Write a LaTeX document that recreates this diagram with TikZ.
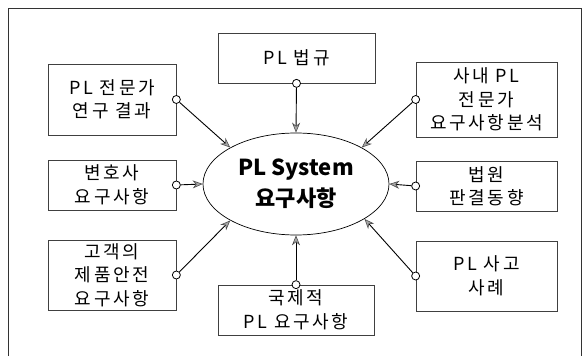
\documentclass[tikz,border=0pt]{standalone}
\usepackage{fontspec}
\setmainfont{Noto Sans CJK KR}
\usetikzlibrary{arrows.meta,shapes.geometric}
\begin{document}
\begin{tikzpicture}[x=1pt,y=-1pt,
  box/.style={draw=black!75,line width=0.7pt,minimum width=#1,inner sep=0pt,align=center,
    font=\fontsize{18}{23.5}\selectfont\addfontfeature{LetterSpace=15}},
  port/.style={circle,draw=black,line width=0.8pt,fill=white,minimum size=8pt,inner sep=0pt},
  conn/.style={line width=0.9pt,-{Stealth[length=10pt,width=8pt,fill=black!35,color=black!70,line width=0.6pt]}},
  frame/.style={line width=0.8pt,draw=black!80}]
\useasboundingbox (0,0) rectangle (583,358);
\draw[frame] (8,356) -- (8,8) -- (581,8) -- (581,356);
\node[ellipse,draw,line width=0.7pt,minimum width=186pt,minimum height=102pt,inner sep=0pt,align=center,
  font=\fontsize{22}{31}\selectfont\bfseries] (ell) at (296,184) {PL System\\요구사항};
\node[box=128pt,minimum height=71pt] (b1) at (112,99.5) {PL 전문가\\연구 결과};
\node[box=157pt,minimum height=50pt] (b2) at (296.5,58) {PL 법규};
\node[box=141pt,minimum height=75pt] (b3) at (486.5,99.5) {사내 PL\\전문가\\요구사항분석};
\node[box=128pt,minimum height=50pt] (b4) at (112,185) {변호사\\요구사항};
\node[box=141pt,minimum height=50pt] (b5) at (486.5,186) {법원\\판결동향};
\node[box=128pt,minimum height=70pt] (b6) at (112,275) {고객의\\제품안전\\요구사항};
\node[box=156pt,minimum height=50pt] (b7) at (296,310) {국제적\\PL 요구사항};
\node[box=141pt,minimum height=70pt] (b8) at (486.5,276) {PL 사고\\사례};
\node[port] (c1) at (b1.east) {};
\node[port] (c2) at (b2.south) {};
\node[port] (c3) at (b3.west) {};
\node[port] (c4) at (b4.east) {};
\node[port] (c5) at (b5.west) {};
\node[port] (c6) at (b6.east) {};
\node[port] (c7) at (b7.north) {};
\node[port] (c8) at (b8.west) {};
\draw[conn] (c1) -- (ell.151);
\draw[conn] (c2) -- (ell.north);
\draw[conn] (c3) -- (ell.29);
\draw[conn] (c4) -- (ell.west);
\draw[conn] (c5) -- (ell.east);
\draw[conn] (c6) -- (ell.209);
\draw[conn] (c7) -- (ell.south);
\draw[conn] (c8) -- (ell.333);
\end{tikzpicture}
\end{document}
